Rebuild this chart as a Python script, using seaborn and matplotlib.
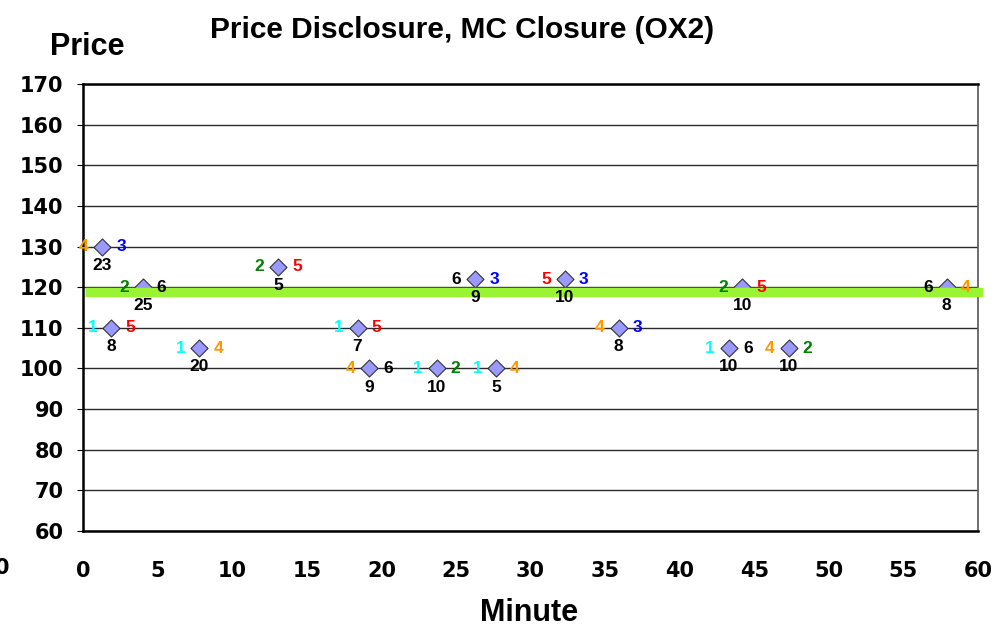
import matplotlib
matplotlib.use('Agg')
import matplotlib.pyplot as plt
import numpy as np
import pandas as pd
import seaborn as sns

# 每笔成交：分钟、价格、左侧编号、右侧编号、下方数量
minutes = [1.3, 4.0, 1.9, 7.8, 13.1, 18.4, 19.2, 23.7, 27.7, 26.3, 32.3, 35.9, 44.2, 43.3, 47.3, 57.9]
prices = [130, 120, 110, 105, 125, 110, 100, 100, 100, 122, 122, 110, 120, 105, 105, 120]
left_ids = ['4', '2', '1', '1', '2', '1', '4', '1', '1', '6', '5', '4', '2', '1', '4', '6']
right_ids = ['3', '6', '5', '4', '5', '5', '6', '2', '4', '3', '3', '3', '5', '6', '2', '4']
volumes = ['23', '25', '8', '20', '5', '7', '9', '10', '5', '9', '10', '8', '10', '10', '10', '8']

# 收盘参考价（绿线）
close_price = 118.7
close_x = [0.1, 60.3]

x_ticks = list(range(0, 65, 5))
y_ticks = list(range(60, 180, 10))

id_colors = {'1': '#00FFFF', '2': '#008000', '3': '#0000FF',
             '4': '#FF9900', '5': '#FF0000', '6': '#000000'}

df = pd.DataFrame({'Minute': minutes, 'Price': prices,
                   'left': left_ids, 'right': right_ids, 'vol': volumes})

sns.set_style('white')
plt.rcParams['font.family'] = ['Liberation Sans', 'DejaVu Sans']
plt.rcParams['text.color'] = 'black'
plt.rcParams['xtick.color'] = 'black'
plt.rcParams['ytick.color'] = 'black'

fig = plt.figure(figsize=(9.97, 6.32), dpi=100)
ax = fig.add_axes([0.0833, 0.160, 0.8977, 0.707])

# 水平网格线
for y in y_ticks:
    ax.axhline(y, color='#2a2a2a', lw=1.0, zorder=1)

sns.scatterplot(data=df, x='Minute', y='Price', marker='D', s=75,
                color='#9999FF', edgecolor='#333333', linewidth=0.8,
                zorder=3, ax=ax, clip_on=False)

# 绿线
sns.lineplot(x=close_x, y=[close_price, close_price], color='#99F533',
             lw=6.8, ax=ax, zorder=4)
for ln in ax.lines[-1:]:
    ln.set_clip_on(False)
    ln.set_solid_capstyle('butt')

# 标签
for _, r in df.iterrows():
    ax.annotate(r['left'], (r['Minute'], r['Price']), xytext=(-13.5, 0),
                textcoords='offset points', ha='center', va='center',
                fontsize=12.5, fontweight='bold', color=id_colors[r['left']], zorder=5)
    ax.annotate(r['right'], (r['Minute'], r['Price']), xytext=(13.5, 0),
                textcoords='offset points', ha='center', va='center',
                fontsize=12.5, fontweight='bold', color=id_colors[r['right']], zorder=5)
    ax.annotate(r['vol'], (r['Minute'], r['Price']), xytext=(0, -13.5),
                textcoords='offset points', ha='center', va='center',
                fontsize=12.5, fontweight='bold', color='black', zorder=5)

ax.set_xlim(0, 60)
ax.set_ylim(60, 170)
ax.set_xticks(x_ticks)
ax.set_yticks(y_ticks)
ax.set_xticklabels([str(v) for v in x_ticks], fontsize=15, fontweight='bold', family='DejaVu Sans')
ax.set_yticklabels([str(v) for v in y_ticks], fontsize=15, fontweight='bold', family='DejaVu Sans')
ax.tick_params(axis='x', length=0, pad=22)
ax.tick_params(axis='y', length=4, direction='out', left=True, pad=10, color='black')
ax.set_xlabel('')
ax.set_ylabel('')

# 左下角多出的 "0"
ax.text(-5.4, -0.083, '0', transform=ax.get_xaxis_transform(), ha='center', va='center',
        fontsize=15, fontweight='bold', family='DejaVu Sans', clip_on=False)

for side in ['left', 'bottom', 'top']:
    ax.spines[side].set_color('black')
    ax.spines[side].set_linewidth(1.8)
ax.spines['right'].set_color('#555555')
ax.spines['right'].set_linewidth(1.2)

fig.text(0.463, 0.953, 'Price Disclosure, MC Closure (OX2)', ha='center', va='center',
         fontsize=21.5, fontweight='bold')
fig.text(0.088, 0.926, 'Price', ha='center', va='center', fontsize=22, fontweight='bold')
fig.text(0.531, 0.030, 'Minute', ha='center', va='center', fontsize=22, fontweight='bold')

fig.savefig('out.png', dpi=100)
